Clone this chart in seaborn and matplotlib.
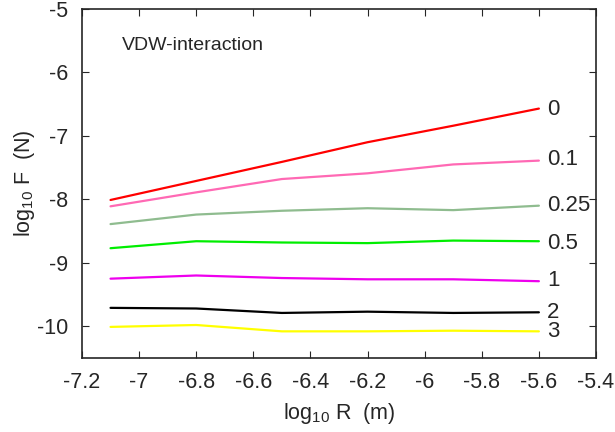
import pandas as pd
import matplotlib
matplotlib.use("Agg")
import matplotlib.pyplot as plt
import seaborn as sns

# log10 R values (m)
log_r = [-7.1, -6.8, -6.5, -6.2, -5.9, -5.6]

# log10 F for each curve
f_0 = [-8.01, -7.71, -7.41, -7.10, -6.84, -6.57]
f_01 = [-8.11, -7.89, -7.68, -7.59, -7.45, -7.39]
f_025 = [-8.39, -8.24, -8.18, -8.14, -8.17, -8.10]
f_05 = [-8.77, -8.66, -8.68, -8.69, -8.65, -8.66]
f_1 = [-9.25, -9.20, -9.24, -9.26, -9.26, -9.29]
f_2 = [-9.71, -9.72, -9.79, -9.77, -9.79, -9.78]
f_3 = [-10.01, -9.98, -10.08, -10.08, -10.07, -10.08]

labels = ["0", "0.1", "0.25", "0.5", "1", "2", "3"]
series = [f_0, f_01, f_025, f_05, f_1, f_2, f_3]
colors = ["#ff0000", "#ff69b4", "#8fbc8f", "#00ee00", "#ee00ee", "#000000", "#ffff00"]
label_y = [-6.59, -7.37, -8.10, -8.69, -9.28, -9.78, -10.09]

x_ticks = [-7.2, -7, -6.8, -6.6, -6.4, -6.2, -6, -5.8, -5.6, -5.4]
y_ticks = [-10, -9, -8, -7, -6, -5]

rows = []
for lab, vals in zip(labels, series):
    for x, y in zip(log_r, vals):
        rows.append({"logR": x, "logF": y, "curve": lab})
df = pd.DataFrame(rows)

sns.set_style("ticks")
plt.rcParams["font.family"] = ["Liberation Sans", "DejaVu Sans"]
plt.rcParams["mathtext.fontset"] = "custom"
plt.rcParams["mathtext.rm"] = "Liberation Sans"
plt.rcParams["mathtext.it"] = "Liberation Sans"

fig = plt.figure(figsize=(6.15, 4.32), dpi=100)
ax = fig.add_axes([0.1333, 0.1713, 0.8358, 0.808])

sns.lineplot(data=df, x="logR", y="logF", hue="curve", palette=dict(zip(labels, colors)),
             linewidth=1.6, legend=False, ax=ax)

for lab, yv in zip(labels, label_y):
    ax.text(-5.572, yv, lab, fontsize=16, va="center", ha="left")

ax.text(-7.06, -5.57, "VDW-interaction", fontsize=14, va="center", ha="left")

ax.set_xlim(-7.2, -5.4)
ax.set_ylim(-10.5, -5)
ax.set_xticks(x_ticks)
ax.set_xticklabels([f"{t:g}" for t in x_ticks])
ax.set_yticks(y_ticks)
ax.set_yticklabels([f"{t:g}" for t in y_ticks])
ax.tick_params(direction="in", top=True, right=True, labelsize=15.5, length=5, pad=10)
for sp in ax.spines.values():
    sp.set_linewidth(1.2)

ax.set_xlabel(r"log$_{\rm 10}$ R  (m)", fontsize=15.5, labelpad=6)
ax.set_ylabel(r"log$_{\rm 10}$ F  (N)", fontsize=15.5, labelpad=0)

fig.savefig("out.png", dpi=100)
